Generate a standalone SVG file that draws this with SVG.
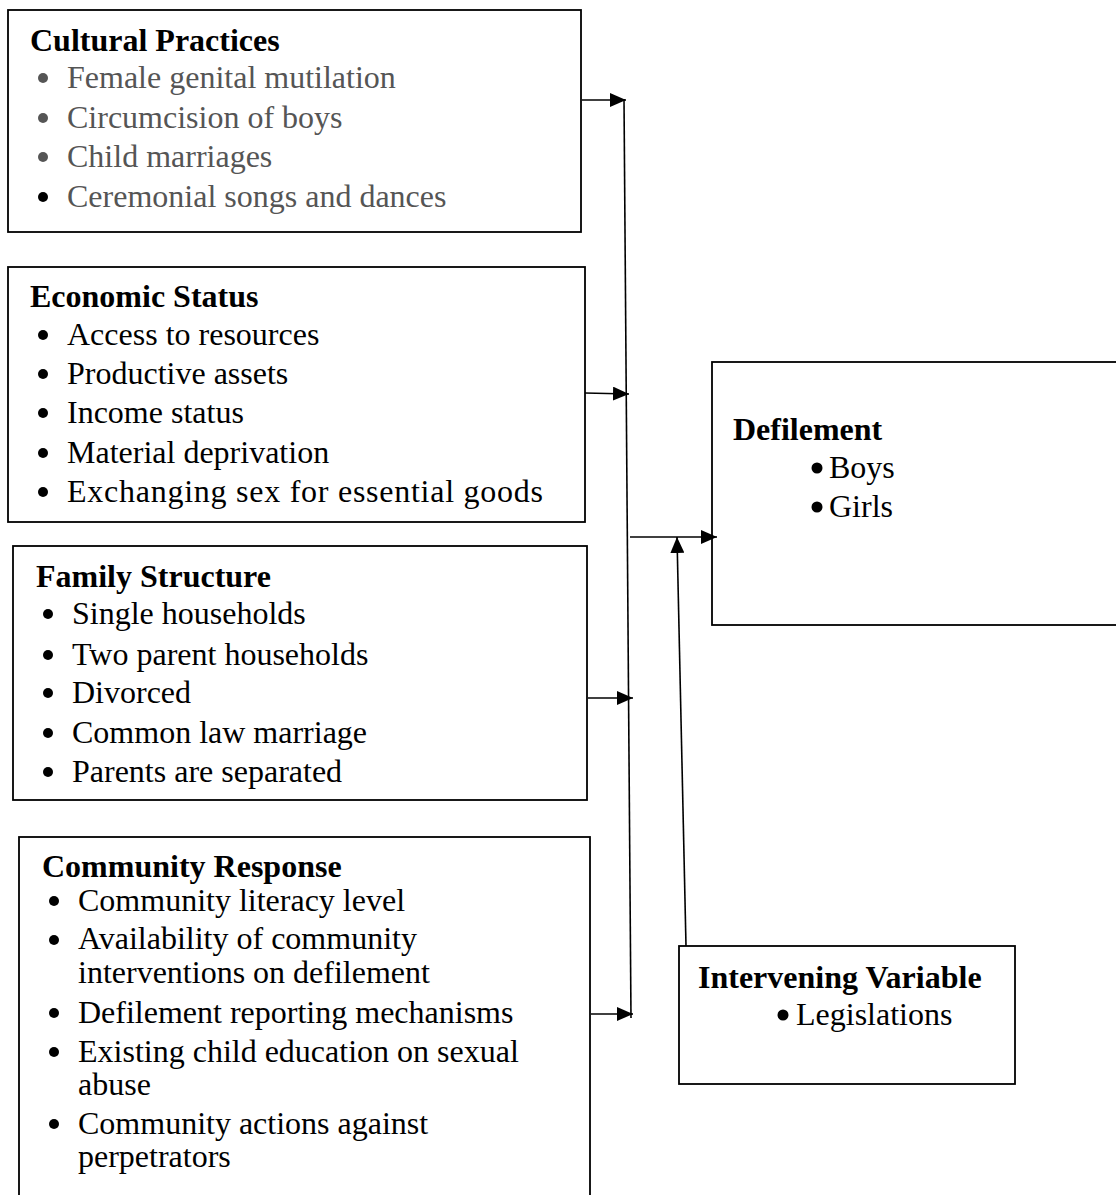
<svg xmlns="http://www.w3.org/2000/svg" width="1116" height="1195" viewBox="0 0 1116 1195">
<defs>
<marker id="ah" viewBox="0 0 16 14" refX="16" refY="7" markerWidth="16" markerHeight="14" markerUnits="userSpaceOnUse" orient="auto">
<path d="M0,0 L16,7 L0,14 Z" fill="#000"/>
</marker>
</defs>
<style>
.box{fill:#fff;stroke:#000;stroke-width:1.8}
.t{font-family:"Liberation Serif","Times New Roman",serif;font-weight:bold;font-size:32px;fill:#000}
.i{font-family:"Liberation Serif","Times New Roman",serif;font-size:32px;fill:#000}
.g{fill:#555}
.b{fill:#000}
.bg{fill:#555}
.c{stroke:#000;stroke-width:1.6;fill:none}
.ca{stroke:#000;stroke-width:1.6;fill:none;marker-end:url(#ah)}
</style>
<rect width="1116" height="1195" fill="#fff"/>
<g id="cultural">
<rect class="box" x="8" y="10" width="573" height="222"/>
<text class="t" x="30" y="51">Cultural Practices</text>
<circle class="bg" cx="43" cy="78" r="5"/><text class="i g" x="67" y="88">Female genital mutilation</text>
<circle class="bg" cx="43" cy="118" r="5"/><text class="i g" x="67" y="128">Circumcision of boys</text>
<circle class="bg" cx="43" cy="157" r="5"/><text class="i g" x="67" y="167">Child marriages</text>
<circle class="b" cx="43" cy="197" r="5"/><text class="i g" x="67" y="207">Ceremonial songs and dances</text>
</g>
<g id="economic">
<rect class="box" x="8" y="267" width="577" height="255"/>
<text class="t" x="30" y="307">Economic Status</text>
<circle class="b" cx="43" cy="335" r="5"/><text class="i" x="67" y="345">Access to resources</text>
<circle class="b" cx="43" cy="374" r="5"/><text class="i" x="67" y="384">Productive assets</text>
<circle class="b" cx="43" cy="413" r="5"/><text class="i" x="67" y="423">Income status</text>
<circle class="b" cx="43" cy="453" r="5"/><text class="i" x="67" y="463">Material deprivation</text>
<circle class="b" cx="43" cy="492" r="5"/><text class="i" x="67" y="502" textLength="476" lengthAdjust="spacing">Exchanging sex for essential goods</text>
</g>
<g id="family">
<rect class="box" x="13" y="546" width="574" height="254"/>
<text class="t" x="36" y="587">Family Structure</text>
<circle class="b" cx="48" cy="614" r="5"/><text class="i" x="72" y="624">Single households</text>
<circle class="b" cx="48" cy="655" r="5"/><text class="i" x="72" y="665">Two parent households</text>
<circle class="b" cx="48" cy="693" r="5"/><text class="i" x="72" y="703">Divorced</text>
<circle class="b" cx="48" cy="733" r="5"/><text class="i" x="72" y="743">Common law marriage</text>
<circle class="b" cx="48" cy="772" r="5"/><text class="i" x="72" y="782">Parents are separated</text>
</g>
<g id="community">
<rect class="box" x="19" y="837" width="571" height="380"/>
<text class="t" x="42" y="877">Community Response</text>
<circle class="b" cx="54" cy="901" r="5"/><text class="i" x="78" y="911">Community literacy level</text>
<circle class="b" cx="54" cy="940" r="5"/><text class="i" x="78" y="949">Availability of community</text>
<text class="i" x="78" y="983">interventions on defilement</text>
<circle class="b" cx="54" cy="1013" r="5"/><text class="i" x="78" y="1023">Defilement reporting mechanisms</text>
<circle class="b" cx="54" cy="1052" r="5"/><text class="i" x="78" y="1062">Existing child education on sexual</text>
<text class="i" x="78" y="1095">abuse</text>
<circle class="b" cx="54" cy="1124" r="5"/><text class="i" x="78" y="1134">Community actions against</text>
<text class="i" x="78" y="1167">perpetrators</text>
</g>
<g id="defilement">
<rect class="box" x="712" y="362" width="420" height="263"/>
<text class="t" x="733" y="440">Defilement</text>
<circle class="b" cx="817" cy="468" r="5.5"/><text class="i" x="829" y="478">Boys</text>
<circle class="b" cx="817" cy="507" r="5.5"/><text class="i" x="829" y="517">Girls</text>
</g>
<g id="intervening">
<rect class="box" x="679" y="946" width="336" height="138"/>
<text class="t" x="698" y="988">Intervening Variable</text>
<circle class="b" cx="783" cy="1015" r="5.5"/><text class="i" x="796" y="1025">Legislations</text>
</g>
<g id="connectors">
<line class="c" x1="624" y1="99" x2="631" y2="1018"/>
<line class="ca" x1="582" y1="100" x2="626" y2="100"/>
<line class="ca" x1="585" y1="393" x2="629" y2="394"/>
<line class="ca" x1="588" y1="698" x2="633" y2="698"/>
<line class="ca" x1="591" y1="1014" x2="633" y2="1014"/>
<line class="ca" x1="630" y1="537" x2="717" y2="537"/>
<line class="ca" x1="686" y1="946" x2="677" y2="537"/>
</g>
</svg>
